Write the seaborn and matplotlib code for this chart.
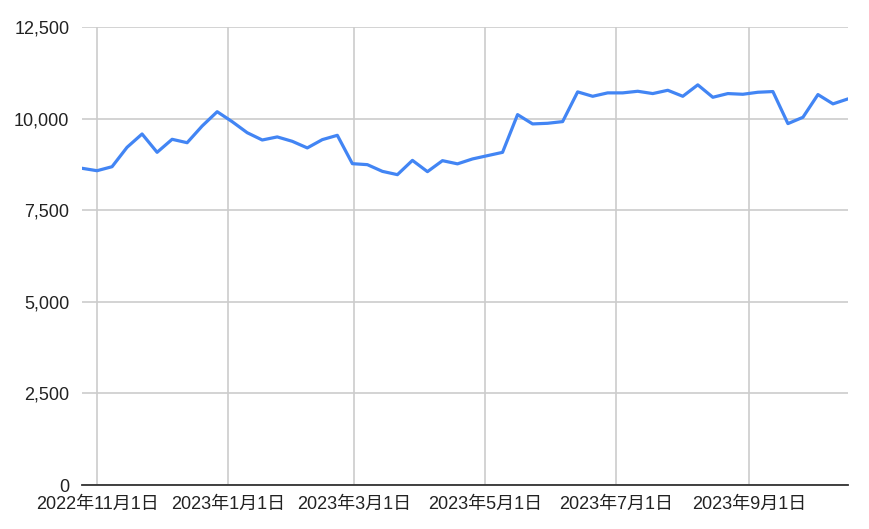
import pandas as pd
import matplotlib
matplotlib.use("Agg")
import matplotlib.pyplot as plt
import seaborn as sns

# weekly values
start_date = "2022-10-25"
values = [8644, 8578, 8687, 9217, 9580, 9080, 9435, 9342, 9798, 10188,
          9916, 9615, 9416, 9500, 9380, 9200, 9426, 9544, 8770, 8743,
          8560, 8470, 8860, 8552, 8852, 8765, 8899, 8989, 9079, 10109,
          9855, 9872, 9918, 10729, 10609, 10702, 10702, 10746, 10683, 10773,
          10609, 10921, 10582, 10683, 10664, 10719, 10738, 9863, 10036, 10656,
          10402, 10538]
x_ticks = ["2022-11-01", "2023-01-01", "2023-03-01", "2023-05-01", "2023-07-01", "2023-09-01"]
x_labels = ["2022年11月1日", "2023年1月1日", "2023年3月1日", "2023年5月1日", "2023年7月1日", "2023年9月1日"]
y_ticks = [0, 2500, 5000, 7500, 10000, 12500]
y_labels = ["0", "2,500", "5,000", "7,500", "10,000", "12,500"]

df = pd.DataFrame({"date": pd.date_range(start_date, periods=len(values), freq="7D"),
                   "value": values})

sns.set_style("white")
plt.rcParams['font.family'] = ['Liberation Sans', 'Noto Sans CJK JP', 'DejaVu Sans']

fig = plt.figure(figsize=(8.7, 5.29), dpi=100)
ax = fig.add_axes([82/870, 1-485/529, (848-82)/870, (485-27)/529])

sns.lineplot(data=df, x="date", y="value", ax=ax, color="#4285F4", lw=2.3, zorder=3)

ax.set_xlim(df["date"].iloc[0], df["date"].iloc[-1])
ax.set_ylim(0, 12500)
ax.set_xticks(pd.to_datetime(x_ticks))
ax.set_xticklabels(x_labels)
ax.set_yticks(y_ticks)
ax.set_yticklabels(y_labels)
ax.grid(True, color="#cccccc", lw=1.2, zorder=0)
ax.tick_params(length=0, labelsize=13, colors="#222222")
ax.tick_params(axis="y", pad=9)
ax.tick_params(axis="x", pad=8)
for s in ["top", "right", "left"]:
    ax.spines[s].set_visible(False)
ax.spines["bottom"].set_color("#333333")
ax.spines["bottom"].set_linewidth(1.3)
ax.spines["bottom"].set_zorder(4)
ax.set_xlabel("")
ax.set_ylabel("")

fig.savefig("out.png", dpi=100)
